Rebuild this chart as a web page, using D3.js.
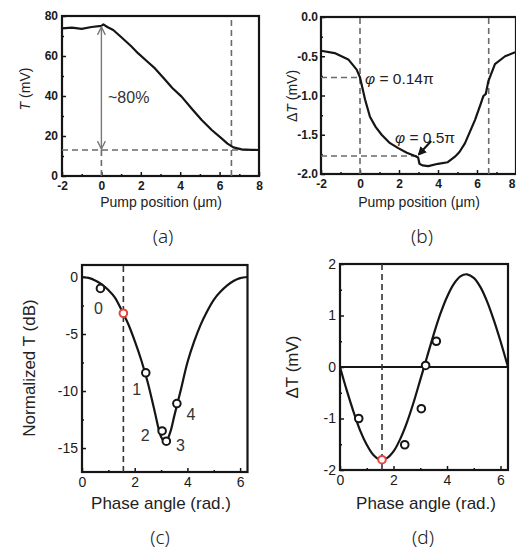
<!DOCTYPE html>
<html>
<head>
<meta charset="utf-8">
<script src="https://cdn.jsdelivr.net/npm/d3@7"></script>
<style>
  body { margin: 0; background: #fff; }
  svg { display: block; font-family: "Liberation Sans", Arial, sans-serif; }
</style>
</head>
<body>
<svg id="fig" width="516" height="553"></svg>
<script>
// (a) transmission vs pump position
const pumpA = [-2, -1.5, -1, -0.5, 0, 0.1, 0.3, 0.6, 1, 1.5, 1.87, 2.3, 2.72, 3.2, 3.6, 4.07, 4.6, 5.09, 5.6, 6.1, 6.4, 6.7, 7.12, 7.6, 8];
const transA = [73.8, 74.2, 73.6, 74.5, 75.1, 75.8, 74.5, 73, 69.5, 65, 61.3, 57.5, 53.8, 48.5, 44, 39.7, 33.5, 28, 23, 18.8, 16.2, 14.3, 13.3, 13.1, 13];

// (b) delta T vs pump position
const pumpB = [-2, -1.3, -0.6, -0.17, 0, 0.26, 0.51, 0.8, 1.11, 1.5, 1.96, 2.4, 2.82, 2.98, 3.05, 3.2, 3.5, 4.0, 4.5, 4.87, 5.1, 5.38, 5.9, 6.2, 6.32, 6.45, 6.58, 6.92, 7.44, 7.95];
const deltaB = [-0.43, -0.46, -0.54, -0.67, -0.77, -1.05, -1.27, -1.4, -1.5, -1.6, -1.67, -1.73, -1.77, -1.79, -1.87, -1.89, -1.9, -1.87, -1.85, -1.78, -1.72, -1.61, -1.31, -1.1, -1.01, -0.98, -0.82, -0.6, -0.5, -0.45];

// (c) normalized T curve
const phiC = [0, 0.25, 0.5, 0.75, 1.0, 1.25, 1.5, 1.75, 2.0, 2.25, 2.5, 2.75, 3.0, 3.17, 3.35, 3.5, 3.75, 4.0, 4.25, 4.5, 4.75, 5.0, 5.25, 5.5, 5.75, 6.0, 6.28];
const dbC = [0, -0.08, -0.3, -0.65, -1.15, -1.8, -2.9, -4.1, -5.6, -7.3, -9.3, -11.7, -14.0, -14.5, -13.6, -12.2, -9.9, -7.5, -5.7, -4.2, -3.0, -2.0, -1.3, -0.75, -0.35, -0.1, 0];

// (d) delta T curve
const phiD = [0, 0.25, 0.5, 0.75, 1.0, 1.25, 1.5, 1.75, 2.0, 2.25, 2.5, 2.75, 3.0, 3.25, 3.5, 3.75, 4.0, 4.25, 4.5, 4.75, 5.0, 5.25, 5.5, 5.75, 6.0, 6.28];
const deltaD = [0, -0.45, -0.86, -1.23, -1.51, -1.71, -1.8, -1.77, -1.64, -1.4, -1.08, -0.69, -0.25, 0.19, 0.63, 1.03, 1.36, 1.61, 1.76, 1.8, 1.73, 1.55, 1.27, 0.91, 0.5, 0];

// measured points shared by (c) and (d)
const phasePts = [0.7, 1.57, 2.42, 3.04, 3.2, 3.6];
const dbPts = [-1.0, -3.18, -8.4, -13.5, -14.4, -11.1];
const deltaPts = [-1.0, -1.8, -1.51, -0.81, 0.03, 0.5];
const ptTags = ["0", "", "1", "2", "3", "4"];
const highlight = 1;

const ticksA_x = [-2, 0, 2, 4, 6, 8];
const ticksA_y = [0, 20, 40, 60, 80];
const ticksB_y = [0, -0.5, -1.0, -1.5, -2.0];
const ticksC_x = [0, 2, 4, 6];
const ticksC_y = [0, -5, -10, -15];
const ticksD_y = [-2, -1, 0, 1, 2];

const svg = d3.select("#fig");
const ink = "#151515";
const dashCol = "#6a6a6a";

function panel(box, xDom, yDom, opt) {
  const x = d3.scaleLinear().domain(xDom).range([box.left, box.right]);
  const y = d3.scaleLinear().domain(yDom).range([box.bottom, box.top]);
  const g = svg.append("g");

  g.append("g").attr("transform", `translate(0,${box.bottom})`)
    .call(d3.axisBottom(x).tickValues(opt.xMinor).tickSizeInner(-2).tickSizeOuter(0).tickFormat(""));
  g.append("g").attr("class", "xmaj").attr("transform", `translate(0,${box.bottom})`)
    .call(d3.axisBottom(x).tickValues(opt.xTicks).tickSizeInner(-4).tickSizeOuter(0)
      .tickPadding(opt.xPad).tickFormat(opt.xFmt));
  g.append("g").attr("transform", `translate(${box.left},0)`)
    .call(d3.axisLeft(y).tickValues(opt.yMinor).tickSizeInner(-2).tickSizeOuter(0).tickFormat(""));
  g.append("g").attr("transform", `translate(${box.left},0)`)
    .call(d3.axisLeft(y).tickValues(opt.yTicks).tickSizeInner(-4).tickSizeOuter(0)
      .tickPadding(opt.yPad).tickFormat(opt.yFmt));

  g.selectAll(".domain").remove();
  g.selectAll(".tick line").attr("stroke", ink).attr("stroke-width", 1.5);
  g.selectAll(".tick text")
    .attr("fill", "#1a1a1a")
    .style("font-size", opt.tickSize + "px")
    .style("font-weight", opt.tickWeight);

  svg.append("rect")
    .attr("x", box.left).attr("y", box.top)
    .attr("width", box.right - box.left).attr("height", box.bottom - box.top)
    .attr("fill", "none").attr("stroke", ink).attr("stroke-width", 2.2);

  return { x, y, g, box };
}

function dashed(p, x1, y1, x2, y2, col) {
  svg.append("line")
    .attr("x1", p.x(x1)).attr("y1", p.y(y1))
    .attr("x2", p.x(x2)).attr("y2", p.y(y2))
    .attr("stroke", col || dashCol).attr("stroke-width", 1.6)
    .attr("stroke-dasharray", "6,4");
}

function curve(p, xs, ys, kind) {
  const pts = xs.map((d, i) => [d, ys[i]]);
  svg.append("path")
    .datum(pts)
    .attr("fill", "none").attr("stroke", ink).attr("stroke-width", 2.2)
    .attr("stroke-linejoin", "round")
    .attr("d", d3.line().x(d => p.x(d[0])).y(d => p.y(d[1])).curve(kind));
}

function yTitle(cx, cy, size, parts) {
  const t = svg.append("text")
    .attr("transform", `translate(${cx},${cy}) rotate(-90)`)
    .attr("text-anchor", "middle").attr("dy", "0.35em")
    .attr("fill", "#222").style("font-size", size + "px");
  parts.forEach(([s, it]) => t.append("tspan").text(s).style("font-style", it ? "italic" : "normal"));
}

function xTitle(cx, cy, size, str) {
  svg.append("text").attr("x", cx).attr("y", cy).attr("dy", "0.35em")
    .attr("text-anchor", "middle").attr("fill", "#222")
    .style("font-size", size + "px").text(str);
}

function tag(cx, cy, str) {
  svg.append("text").attr("x", cx).attr("y", cy).attr("dy", "0.35em")
    .attr("text-anchor", "middle").attr("fill", "#222")
    .style("font-family", "'Noto Sans', sans-serif")
    .style("font-size", "19px").style("font-weight", 300).text(str);
}

const defs = svg.append("defs");
defs.append("marker").attr("id", "vhead").attr("viewBox", "0 0 10 10")
  .attr("refX", 9).attr("refY", 5).attr("markerWidth", 7).attr("markerHeight", 7)
  .attr("orient", "auto-start-reverse")
  .append("path").attr("d", "M1,1 L9,5 L1,9").attr("fill", "none")
  .attr("stroke", "#777").attr("stroke-width", 1.4);
defs.append("marker").attr("id", "fhead").attr("viewBox", "0 0 10 10")
  .attr("refX", 8).attr("refY", 5).attr("markerWidth", 4).attr("markerHeight", 4)
  .attr("orient", "auto")
  .append("path").attr("d", "M0,0 L10,5 L0,10 Z").attr("fill", ink);

// ---------- (a)
const pa = panel({ left: 62, right: 259, top: 16, bottom: 176 }, [-2, 8], [0, 80], {
  xTicks: ticksA_x, xMinor: [-1, 1, 3, 5, 7], xPad: 5, xFmt: d => String(d),
  yTicks: ticksA_y, yMinor: [10, 30, 50, 70], yPad: 4, yFmt: d => String(d),
  tickSize: 12, tickWeight: "bold"
});
dashed(pa, -2, 13, 8, 13);
dashed(pa, 6.6, 0, 6.6, 80);
dashed(pa, 0, 0, 0, 13);
curve(pa, pumpA, transA, d3.curveLinear);
svg.append("line")
  .attr("x1", pa.x(0)).attr("y1", pa.y(74.5)).attr("x2", pa.x(0)).attr("y2", pa.y(13.5))
  .attr("stroke", "#777").attr("stroke-width", 1.4)
  .attr("marker-start", "url(#vhead)").attr("marker-end", "url(#vhead)");
svg.append("text").attr("x", 108).attr("y", 103).attr("fill", "#333")
  .style("font-size", "16px").text("~80%");
yTitle(25, 89, 14, [["T", true], [" (mV)", false]]);
xTitle(161, 202, 14, "Pump position (\u03bcm)");
tag(163, 236, "(a)");

// ---------- (b)
const pb = panel({ left: 321, right: 516, top: 17, bottom: 174 }, [-2, 8], [-2, 0], {
  xTicks: ticksA_x, xMinor: [-1, 1, 3, 5, 7], xPad: 5, xFmt: d => String(d),
  yTicks: ticksB_y, yMinor: [-0.25, -0.75, -1.25, -1.75], yPad: 3, yFmt: d => d.toFixed(1),
  tickSize: 12, tickWeight: "bold"
});
// last tick label sits on the page edge; keep it inside
pb.g.selectAll(".xmaj .tick text").filter(d => d === 8).attr("text-anchor", "end").attr("dx", "-1");
dashed(pb, 0, -2, 0, 0);
dashed(pb, 6.6, -2, 6.6, 0);
dashed(pb, -2, -0.77, 0, -0.77);
dashed(pb, -2, -1.77, 2.95, -1.77);
curve(pb, pumpB, deltaB, d3.curveLinear);
const phiLbl = (x0, y0, rest) => {
  const t = svg.append("text").attr("x", x0).attr("y", y0).attr("fill", "#222").style("font-size", "15.5px");
  t.append("tspan").text("\u03c6").style("font-style", "italic");
  t.append("tspan").text(rest);
};
phiLbl(365, 84, " = 0.14\u03c0");
phiLbl(395, 143, " = 0.5\u03c0");
svg.append("line")
  .attr("x1", pb.x(3.65)).attr("y1", pb.y(-1.58)).attr("x2", pb.x(3.02)).attr("y2", pb.y(-1.75))
  .attr("stroke", ink).attr("stroke-width", 2.2).attr("marker-end", "url(#fhead)");
yTitle(292, 96, 14, [["\u0394", false], ["T", true], [" (mV)", false]]);
xTitle(419, 202, 14, "Pump position (\u03bcm)");
tag(422, 236, "(b)");

// ---------- (c)
const pc = panel({ left: 82, right: 247.5, top: 265, bottom: 472 }, [0, 6.28], [-17.1, 1.05], {
  xTicks: ticksC_x, xMinor: [1, 3, 5], xPad: 5, xFmt: d => String(d),
  yTicks: ticksC_y, yMinor: [-2.5, -7.5, -12.5], yPad: 4, yFmt: d => String(d),
  tickSize: 14, tickWeight: "normal"
});
dashed(pc, 1.57, -17.1, 1.57, 1.05, "#333");
curve(pc, phiC, dbC, d3.curveCatmullRom);
const tagOff = [[-2, 20], [0, 0], [-9, 17], [-17, 4], [14, 4], [14, 11]];
phasePts.forEach((ph, i) => {
  svg.append("circle").attr("cx", pc.x(ph)).attr("cy", pc.y(dbPts[i])).attr("r", 3.8)
    .attr("fill", "#fff").attr("stroke", i === highlight ? "#e5433d" : ink).attr("stroke-width", 2);
  if (ptTags[i]) {
    svg.append("text").attr("x", pc.x(ph) + tagOff[i][0]).attr("y", pc.y(dbPts[i]) + tagOff[i][1])
      .attr("dy", "0.35em").attr("text-anchor", "middle").attr("fill", "#333")
      .style("font-size", "16px").text(ptTags[i]);
  }
});
yTitle(29, 368, 17, [["Normalized T (dB)", false]]);
xTitle(161, 503, 17, "Phase angle (rad.)");
tag(160, 537, "(c)");

// ---------- (d)
const pd = panel({ left: 340, right: 508, top: 264, bottom: 470 }, [0, 6.28], [-2, 2], {
  xTicks: ticksC_x, xMinor: [1, 3, 5], xPad: 5, xFmt: d => String(d),
  yTicks: ticksD_y, yMinor: [-1.5, -0.5, 0.5, 1.5], yPad: 4, yFmt: d => String(d),
  tickSize: 14, tickWeight: "normal"
});
svg.append("line").attr("x1", pd.x(0)).attr("x2", pd.x(6.28))
  .attr("y1", pd.y(0)).attr("y2", pd.y(0)).attr("stroke", ink).attr("stroke-width", 2);
dashed(pd, 1.57, -2, 1.57, 2, "#333");
curve(pd, phiD, deltaD, d3.curveCatmullRom);
phasePts.forEach((ph, i) => {
  svg.append("circle").attr("cx", pd.x(ph)).attr("cy", pd.y(deltaPts[i])).attr("r", 3.8)
    .attr("fill", "#fff").attr("stroke", i === highlight ? "#e5433d" : ink).attr("stroke-width", 2);
});
yTitle(292, 367, 17, [["\u0394T (mV)", false]]);
xTitle(426, 503, 17, "Phase angle (rad.)");
tag(423, 537, "(d)");
</script>
</body>
</html>
